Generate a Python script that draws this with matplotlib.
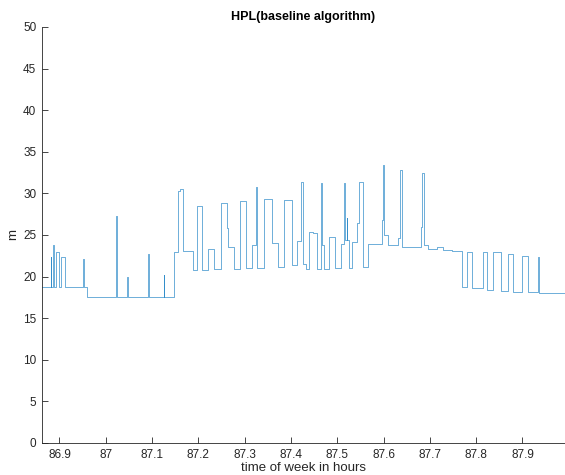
import numpy as np
import matplotlib.pyplot as plt

plt.rcParams['font.family'] = ['Liberation Sans', 'DejaVu Sans']

# HPL step series: time of week (h) at which each level starts, and the level (m)
t_hours = [
    86.8622, 86.8812, 86.8827, 86.8868, 86.8881, 86.8931, 86.8989, 86.9026,
    86.9112, 86.9508, 86.9521, 86.9600, 87.0229, 87.0242, 87.0458, 87.0471,
    87.0911, 87.0924, 87.1251, 87.1264, 87.1473, 87.1566, 87.1613, 87.1674,
    87.1877, 87.1970, 87.2084, 87.2201, 87.2343, 87.2482, 87.2624, 87.2639,
    87.2775, 87.2905, 87.3022, 87.3151, 87.3235, 87.3257, 87.3423, 87.3596,
    87.3726, 87.3849, 87.4015, 87.4136, 87.4227, 87.4255, 87.4324, 87.4395,
    87.4480, 87.4555, 87.4641, 87.4659, 87.4713, 87.4827, 87.4950, 87.5080,
    87.5145, 87.5166, 87.5205, 87.5218, 87.5253, 87.5324, 87.5432, 87.5475,
    87.5562, 87.5670, 87.5959, 87.5987, 87.6015, 87.6089, 87.6305, 87.6361,
    87.6397, 87.6808, 87.6836, 87.6873, 87.6965, 87.7147, 87.7289, 87.7477,
    87.7687, 87.7812, 87.7920, 87.8153, 87.8240, 87.8369, 87.8536, 87.8693,
    87.8801, 87.9000, 87.9112, 87.9341, 87.9363, 87.9918,
]
hpl_m = [
    18.8, 22.4, 18.8, 23.8, 18.8, 23.0, 18.8, 22.3,
    18.8, 22.1, 18.8, 17.6, 27.3, 17.6, 20.0, 17.6,
    22.7, 17.6, 20.2, 17.6, 22.9, 30.3, 30.5, 23.1,
    20.8, 28.5, 20.8, 23.3, 20.9, 28.9, 25.8, 23.6,
    20.9, 29.1, 21.0, 23.8, 30.8, 21.0, 29.3, 24.0,
    21.2, 29.2, 21.4, 24.3, 31.4, 21.5, 20.9, 25.4,
    25.2, 20.9, 31.2, 23.8, 20.9, 24.8, 21.0, 23.9,
    31.3, 24.4, 27.1, 24.4, 21.0, 24.2, 26.4, 31.4,
    21.1, 23.9, 26.8, 33.4, 25.0, 23.8, 24.6, 32.8,
    23.6, 25.9, 32.4, 23.8, 23.3, 23.6, 23.2, 23.1,
    18.7, 23.0, 18.6, 22.9, 18.4, 22.9, 18.3, 22.7,
    18.2, 22.5, 18.1, 22.4, 18.0, 18.0,
]

y_ticks = np.arange(0, 51, 5)
x_ticks = [86.9, 87.0, 87.1, 87.2, 87.3, 87.4, 87.5, 87.6, 87.7, 87.8, 87.9]
x_tick_labels = ['86.9', '87', '87.1', '87.2', '87.3', '87.4', '87.5',
                 '87.6', '87.7', '87.8', '87.9']

axis_gray = '#262626'

fig = plt.figure(figsize=(5.65, 4.75), dpi=100)
ax = fig.add_axes([0.0743, 0.0674, 0.9257, 0.8758])

ax.plot(t_hours, hpl_m, drawstyle='steps-post', color='#0072BD', lw=0.5,
        alpha=0.8)

ax.set_xlim(t_hours[0], t_hours[-1])
ax.set_ylim(0, 50)
ax.set_xticks(x_ticks)
ax.set_xticklabels(x_tick_labels)
ax.set_yticks(y_ticks)

for side in ('top', 'right'):
    ax.spines[side].set_visible(False)
for side in ('left', 'bottom'):
    ax.spines[side].set_color(axis_gray)
    ax.spines[side].set_linewidth(0.6)
ax.tick_params(direction='in', length=4, width=0.6, colors=axis_gray,
               labelsize=8.5, pad=4)

ax.set_xlabel('time of week in hours', fontsize=9.5, color=axis_gray, labelpad=1)
ax.set_ylabel('m', fontsize=9.5, color=axis_gray, labelpad=3)
ax.set_title('HPL(baseline algorithm)', fontsize=9, fontweight='bold', pad=5)

fig.savefig('out.png', dpi=100)
